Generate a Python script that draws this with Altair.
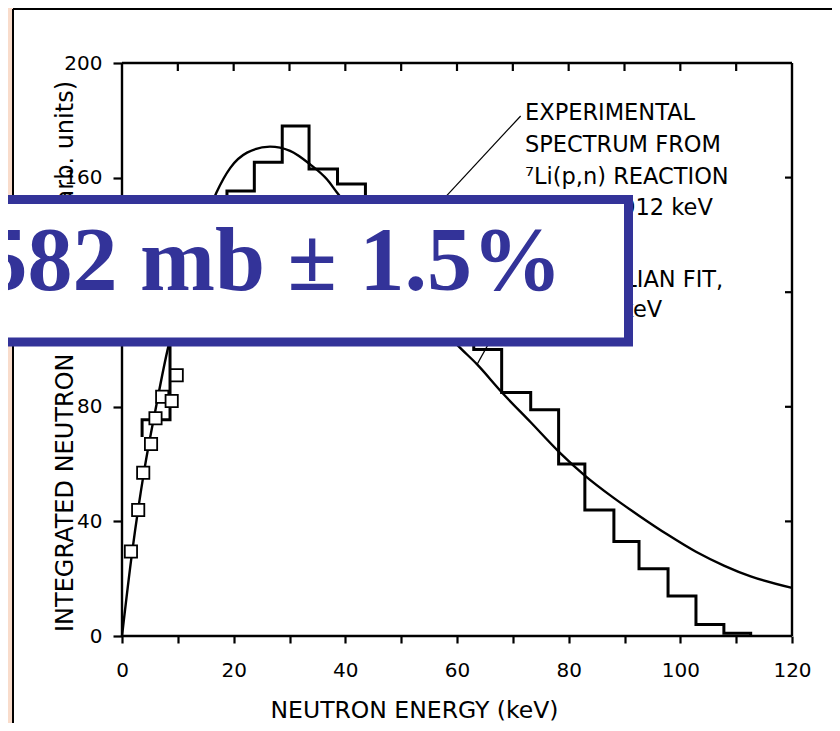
import altair as alt
import pandas as pd

# ---------------- values ----------------
hist_edges = [3.6, 8.6, 13.7, 18.8, 23.7, 28.7, 33.5, 38.6, 43.6, 48.5, 53.4, 58.2,
              63.0, 68.0, 73.2, 78.2, 82.9, 88.1, 92.6, 97.8, 102.8, 107.8, 112.6]
hist_values = [75.5, 118, 142, 155.3, 165.4, 178, 163, 157.8, 148, 136, 123, 111,
               100, 85, 79, 60, 44, 33, 23.5, 14, 4, 1]
hist_start = 69.5

point_energy = [1.6, 2.9, 3.8, 5.2, 6.0, 7.2, 8.9, 9.8]
point_flux = [29.5, 44, 57, 67, 76, 83.5, 82, 91]

fit_energy = [0, 1.8, 4.0, 6.0, 8.3, 10, 12, 14, 16.9, 19.4, 22.4, 26.5, 30.1, 33.7,
              36.7, 38.5, 45, 50, 55, 60, 63.6, 68.1, 73.2, 78.3, 82.9, 88.0, 92.6,
              97.7, 102.8, 107.9, 112.6, 120]
fit_flux = [0, 29, 58, 79, 101, 113, 127, 140, 154.7, 163.4, 168.7, 170.8, 169.3, 164.6,
            159.4, 154.8, 139, 126, 113, 101.7, 94.8, 84.9, 74.6, 64.2, 56, 48.3, 42.0,
            35.4, 29.4, 24.5, 20.8, 16.8]

pointer_e0 = [71.4, 71.2]
pointer_v0 = [181.5, 121.5]
pointer_e1 = [52.6, 63.6]
pointer_v1 = [142, 94.8]

x_ticks = list(range(0, 121, 10))
y_ticks = [0, 40, 80, 120, 160, 200]
top_ticks = list(range(10, 120, 10))
right_ticks = [40, 80, 120, 160]
x_limits = [0, 120]
y_limits = [0, 200]

x_title = "NEUTRON ENERGY (keV)"
y_title = "INTEGRATED NEUTRON INTENSITY (arb. units)"
note_spectrum = ["EXPERIMENTAL", "SPECTRUM FROM", "\u2077Li(p,n) REACTION", "AT Ep=1912 keV"]
note_fit = ["MAXWELLIAN FIT,", "kT = 25 keV"]
box_label = "582 mb \u00b1 1.5%"

# ---------------- tables ----------------
hist_rows = [{"E": hist_edges[0], "v": hist_start, "o": 0}]
for i, val in enumerate(hist_values):
    hist_rows.append({"E": hist_edges[i], "v": val, "o": i + 1})
hist_rows.append({"E": hist_edges[-1], "v": hist_values[-1], "o": len(hist_values) + 1})
hist_rows.append({"E": hist_edges[-1], "v": 0, "o": len(hist_values) + 2})
hist_df = pd.DataFrame(hist_rows)

pts_df = pd.DataFrame({"E": point_energy, "v": point_flux})
fit_df = pd.DataFrame({"E": fit_energy, "v": fit_flux})
ptr_df = pd.DataFrame({"E": pointer_e0, "v": pointer_v0, "E2": pointer_e1, "v2": pointer_v1})
frame_df = pd.DataFrame({
    "E": [x_limits[0], x_limits[1], x_limits[0], x_limits[0]],
    "E2": [x_limits[1], x_limits[1], x_limits[1], x_limits[0]],
    "v": [y_limits[1], y_limits[0], y_limits[0], y_limits[0]],
    "v2": [y_limits[1], y_limits[1], y_limits[0], y_limits[1]],
})
top_df = pd.DataFrame({"E": top_ticks})
right_df = pd.DataFrame({"v": right_ticks})
one = pd.DataFrame({"k": [0]})

FONT = "DejaVu Sans"
INK = "black"
BLUE = "#333399"

xs = alt.Scale(domain=x_limits, nice=False, zero=False)
ys = alt.Scale(domain=y_limits, nice=False, zero=False)

x_axis = alt.Axis(
    values=x_ticks, labelExpr="datum.value % 20 === 0 ? datum.label : ''",
    labelFlush=False, labelOverlap=False, domain=False, grid=False,
    tickSize=7, tickWidth=2.2, tickColor=INK,
    labelFont=FONT, labelFontSize=20, labelColor=INK, labelPadding=17,
    title=x_title, titleFont=FONT, titleFontSize=23.5, titleFontWeight="normal",
    titleColor=INK, titleX=292, titleY=81, titleAlign="center",
    titleBaseline="alphabetic", zindex=0,
)
y_axis = alt.Axis(
    values=y_ticks, domain=False, grid=False,
    tickSize=9, tickWidth=2.2, tickColor=INK,
    labelFont=FONT, labelFontSize=20, labelColor=INK, labelPadding=11,
    title=y_title, titleFont=FONT, titleFontSize=24, titleFontWeight="normal",
    titleColor=INK, titleX=-57, titleY=293, titleAngle=270, titleAlign="center",
    titleBaseline="middle", zindex=0,
)

X = alt.X("E:Q", scale=xs, axis=x_axis)
Y = alt.Y("v:Q", scale=ys, axis=y_axis)

# ---------------- layers ----------------
peach = alt.Chart(one).mark_rect(fill="#f9dccb").encode(
    x=alt.value(-120), x2=alt.value(-109), y=alt.value(-60), y2=alt.value(700))
panel_left = alt.Chart(one).mark_rule(color=INK, strokeWidth=2).encode(
    x=alt.value(-109), y=alt.value(-54), y2=alt.value(700))
panel_top = alt.Chart(one).mark_rule(color=INK, strokeWidth=2).encode(
    x=alt.value(-109), x2=alt.value(760), y=alt.value(-54))

frame = alt.Chart(frame_df).mark_rule(color=INK, strokeWidth=2.4).encode(
    x=X, x2="E2:Q", y=Y, y2="v2:Q")

top_tick_layer = alt.Chart(top_df).mark_rule(color=INK, strokeWidth=2.2).encode(
    x=X, y=alt.value(0), y2=alt.value(8))
right_tick_layer = alt.Chart(right_df).mark_rule(color=INK, strokeWidth=2.2).encode(
    y=Y, x=alt.value(663), x2=alt.value(670))

hist = alt.Chart(hist_df).mark_line(
    interpolate="step-after", color=INK, strokeWidth=3).encode(
    x=X, y=Y, order="o:Q")

fit = alt.Chart(fit_df).mark_line(
    interpolate="monotone", color=INK, strokeWidth=2.4).encode(x=X, y=Y)

pts = alt.Chart(pts_df).mark_square(
    size=150, fill="white", stroke=INK, strokeWidth=1.8, opacity=1).encode(x=X, y=Y)

ptr = alt.Chart(ptr_df).mark_rule(color=INK, strokeWidth=1.2).encode(
    x=X, y=Y, x2="E2:Q", y2="v2:Q")

note1 = alt.Chart(one).mark_text(
    align="left", baseline="top", font=FONT, fontSize=22.5, color=INK,
    lineBreak="\n", lineHeight=31.8).encode(
    x=alt.value(403), y=alt.value(39), text=alt.value("\n".join(note_spectrum)))
note2 = alt.Chart(one).mark_text(
    align="left", baseline="top", font=FONT, fontSize=22.5, color=INK,
    lineBreak="\n", lineHeight=30.5).encode(
    x=alt.value(403), y=alt.value(205.5), text=alt.value("\n".join(note_fit)))

box = alt.Chart(one).mark_rect(fill="white", stroke=BLUE, strokeWidth=9).encode(
    x=alt.value(-140), x2=alt.value(506.5), y=alt.value(136.5), y2=alt.value(279))
box_text = alt.Chart(one).mark_text(
    align="right", baseline="alphabetic", font="Liberation Serif",
    fontWeight="bold", fontSize=90, color=BLUE).encode(
    x=alt.value(440), y=alt.value(227), text=alt.value(box_label))

chart = alt.layer(
    hist, peach, panel_left, panel_top, frame, top_tick_layer, right_tick_layer,
    fit, pts, ptr, note1, note2, box, box_text,
).properties(
    width=670, height=573,
    padding={"left": 114, "top": 55, "right": 40, "bottom": 87},
    autosize=alt.AutoSizeParams(type="none"),
    background="white",
).configure_view(stroke=None)

chart.save("out.html", embed_options={"renderer": "svg", "actions": False})
